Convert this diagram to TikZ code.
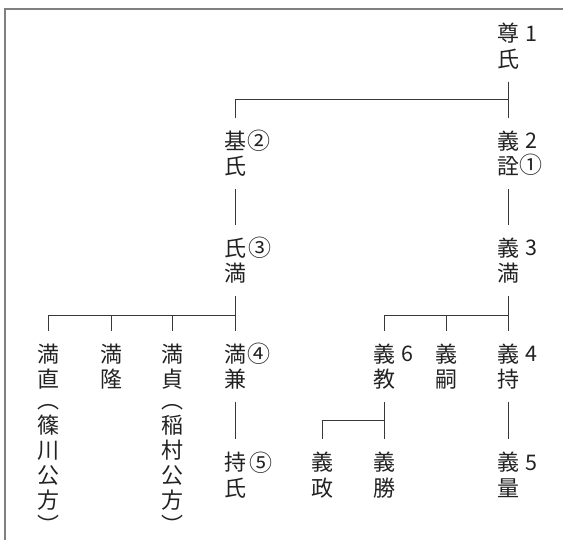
\documentclass[tikz,border=0pt]{standalone}
\usepackage{fontspec}
\newfontfamily\cjk{Noto Sans CJK JP}
\usetikzlibrary{calc}
\definecolor{ink}{HTML}{222222}
\definecolor{framegray}{HTML}{808080}
\tikzset{
  per/.style={font=\cjk\fontsize{22}{25.5}\selectfont, align=center, inner sep=0pt,
              minimum height=71pt, text=ink},
  paren/.style={font=\cjk\fontsize{22}{25}\selectfont, align=center, inner sep=0pt, text=ink},
  num/.style={font=\cjk\fontsize{21.5}{21.5}\selectfont, inner sep=0pt, text=ink},
  circ/.style={font=\cjk\fontsize{23}{23}\selectfont, inner sep=0pt, text=ink},
  link/.style={draw=ink!90, line width=0.9pt},
  frameline/.style={draw=framegray, line width=2pt}
}
\begin{document}
\begin{tikzpicture}[x=1pt,y=-1pt]
\useasboundingbox (0,0) rectangle (563,539);
\draw[frameline] (4.5,545) -- (4.5,9) -- (570,9);

% generation 1
\node[per] (takauji) at (508,46) {尊\\氏};
\node[num] (n1) at ($(takauji)+(23,-12.5)$) {1};
% generation 2
\node[per] (motouji) at (235,153.5) {基\\氏};
\node[circ] (c2) at ($(motouji)+(24,-13)$) {②};
\node[per] (yoshiakira) at (508,153.5) {義\\詮};
\node[num] (n2) at ($(yoshiakira)+(23,-12.5)$) {2};
\node[circ] (c1) at ($(yoshiakira)+(23,11)$) {①};
% generation 3
\node[per] (ujimitsu) at (235,260.5) {氏\\満};
\node[circ] (c3) at ($(ujimitsu)+(25,-12.5)$) {③};
\node[per] (yoshimitsu) at (508,260.5) {義\\満};
\node[num] (n3) at ($(yoshimitsu)+(23,-12.5)$) {3};
% generation 4
\node[per] (mitsunao) at (48.5,366.5) {満\\直};
\node[per] (mitsutaka) at (111.5,366.5) {満\\隆};
\node[per] (mitsusada) at (172.5,366.5) {満\\貞};
\node[per] (mitsukane) at (235,366.5) {満\\兼};
\node[circ] (c4) at ($(mitsukane)+(24,-12.5)$) {④};
\node[per] (yoshinori) at (384,366.5) {義\\教};
\node[num] (n6) at ($(yoshinori)+(23,-12.5)$) {6};
\node[per] (yoshitsugu) at (446,366.5) {義\\嗣};
\node[per] (yoshimochi) at (508,366.5) {義\\持};
\node[num] (n4) at ($(yoshimochi)+(23,-12.5)$) {4};
% notes
\node[paren] (sasagawa) at (48.5,469) {︵\\篠\\川\\公\\方\\︶};
\node[paren] (inamura) at (172.5,469) {︵\\稲\\村\\公\\方\\︶};
% generation 5
\node[per] (mochiuji) at (235,475) {持\\氏};
\node[circ] (c5) at ($(mochiuji)+(26,-12.5)$) {⑤};
\node[per] (yoshimasa) at (322,475) {義\\政};
\node[per] (yoshikatsu) at (384,475) {義\\勝};
\node[per] (yoshikazu) at (508,475) {義\\量};
\node[num] (n5) at ($(yoshikazu)+(23,-12.5)$) {5};

% connectors
\draw[link] (takauji.south) -- ++(0,18) -| (motouji.north);
\draw[link] (takauji.south) -- (yoshiakira.north);
\draw[link] (motouji.south) -- (ujimitsu.north);
\draw[link] (yoshiakira.south) -- (yoshimitsu.north);
\draw[link] (ujimitsu.south) -- ++(0,19) -| (mitsunao.north);
\draw[link] (ujimitsu.south) -- ++(0,19) -| (mitsutaka.north);
\draw[link] (ujimitsu.south) -- ++(0,19) -| (mitsusada.north);
\draw[link] (ujimitsu.south) -- (mitsukane.north);
\draw[link] (yoshimitsu.south) -- ++(0,19) -| (yoshinori.north);
\draw[link] (yoshimitsu.south) -- ++(0,19) -| (yoshitsugu.north);
\draw[link] (yoshimitsu.south) -- (yoshimochi.north);
\draw[link] (mitsukane.south) -- (mochiuji.north);
\draw[link] (yoshinori.south) -- ++(0,18) -| (yoshimasa.north);
\draw[link] (yoshinori.south) -- (yoshikatsu.north);
\draw[link] (yoshimochi.south) -- (yoshikazu.north);
\end{tikzpicture}
\end{document}
